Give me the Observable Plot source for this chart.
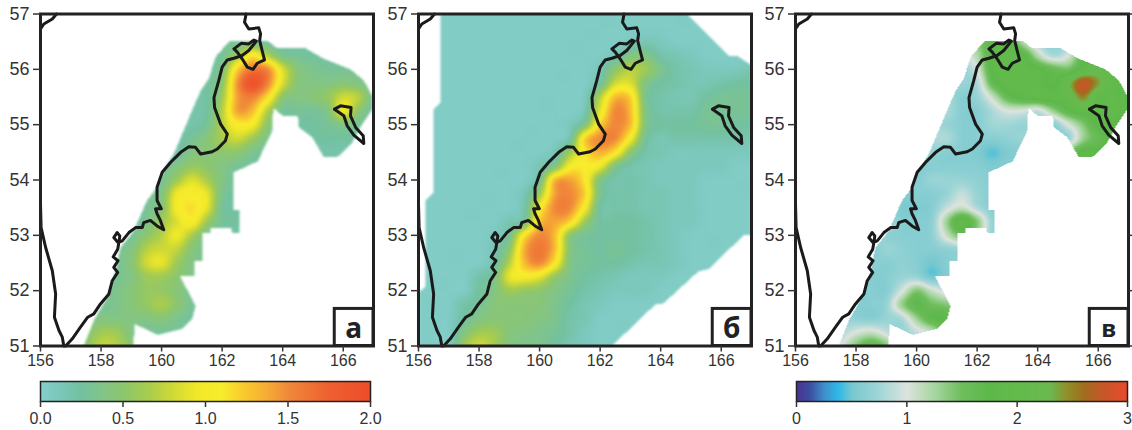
<!DOCTYPE html>
<html><head><meta charset="utf-8">
<script src="https://cdn.jsdelivr.net/npm/d3@7"></script>
<script src="https://cdn.jsdelivr.net/npm/@observablehq/plot@0.6"></script>
<style>
html,body{margin:0;padding:0;background:#fff}
#root{position:relative;width:1132px;height:430px;overflow:hidden}
#root>svg,#root>div{position:absolute}
</style></head><body><div id="root"></div>
<script>
// Grid axes of the read-off values: lon 156..167 step 0.5, lat 57..51 step 0.25
const gridLon0 = 156, gridLat0 = 57, gridLonStep = 0.5, gridLatStep = 0.25;
const lonTicks = [156,158,160,162,164,166];
const latTicks = [51,52,53,54,55,56,57];

// Panel а, values in tenths
const fieldA = [
[2,2,2,2,2,2,2,2,2,2,2,2,2,2,2,2,2,2,2,2,2,2,2],
[2,2,2,2,2,2,2,2,2,2,2,2,2,2,2,2,2,2,2,2,2,2,2],
[2,2,2,2,2,2,2,2,2,2,2,2,2.5,3,3.5,2.5,2,2,2,2,2,2,2],
[2,2,2,2,2,2,2,2,2,2,2,2,3,6,11,7,3.5,3,2.5,2.5,2,2,2],
[2,2,2,2,2,2,2,2,2,2,2,2.5,4,12,16,15,8.5,4.5,3.5,3,3,3,2.5],
[2,2,2,2,2,2,2,2,2,2,2,2.5,5,14.5,19,15.5,8.5,4.5,4,4,4.5,4,3],
[2,2,2,2,2,2,2,2,2,2,2,2.5,6,14,15.5,11.5,5,4,4.5,5.5,8,7,3],
[2,2,2,2,2,2,2,2,2,2,2,2.5,7,14,13,7,3,3,3,4,9.5,5,2.5],
[2,2,2,2,2,2,2,2,2,2,2,3,7,10.5,10,5,3,2.5,2.5,3,4,3,2.5],
[2,2,2,2,2,2,2,2,2,2,3,4.5,6.5,8,6,3.5,2.5,2.5,2.5,2.5,2.5,2.5,2],
[2,2,2,2,2,2,2,2,2,2,4,4.5,5,5,3.5,2.5,2,2,2,2,2,2,2],
[2,2,2,2,2,2,2,2,2.5,4,5.5,5,4,3,2.5,2,2,2,2,2,2,2,2],
[2,2,2,2,2,2,2,2,3,6,8.5,6.5,4,2.5,2,2,2,2,2,2,2,2,2],
[2,2,2,2,2,2,2,3,4,9.5,10.5,9,3.5,2.5,2,2,2,2,2,2,2,2,2],
[2,2,2,2,2,2,2,3,4.5,10,11.5,9,3,2.5,2,2,2,2,2,2,2,2,2],
[2,2,2,2,2,2,2,3.5,6,8.5,10.5,6,3,2.5,2,2,2,2,2,2,2,2,2],
[2,2,2,2,2,2,3,5,7,9.5,6.5,3.5,2.5,2,2,2,2,2,2,2,2,2,2],
[2,2,2,2,2,3,4,7,8,7.5,4.5,3,2,2,2,2,2,2,2,2,2,2,2],
[2,2,2,2,2,3,4.5,8,9,6,4,3,2,2,2,2,2,2,2,2,2,2,2],
[2,2,2,2,2,3,4,6,6,5,3.5,2.5,2,2,2,2,2,2,2,2,2,2,2],
[2,2,2,2,3,3.5,4.5,5.5,5.5,4.5,3,2,2,2,2,2,2,2,2,2,2,2,2],
[2,2,2,2.5,3,3.5,4.5,5.5,6.5,5,3,2,2,2,2,2,2,2,2,2,2,2,2],
[2,2,2,3,4,4,4,4,4.5,3.5,2.5,2,2,2,2,2,2,2,2,2,2,2,2],
[2,2,2,4,6,6,4,3,3,3,2,2,2,2,2,2,2,2,2,2,2,2,2],
[2,2,2,5,7.5,7,5,3,3,3,2,2,2,2,2,2,2,2,2,2,2,2,2]
];

// Panel б, values in tenths
const fieldB = [
[.5,.5,.5,.5,.5,.5,.5,.5,.5,.5,.5,.5,.5,.5,.5,.5,.5,.5,.5,.5,.5,.5,.5],
[.5,.5,.5,.5,.5,.5,.5,.5,.5,.5,.5,.5,.5,.5,.5,.5,.5,.5,.5,.5,.5,.5,.5],
[.5,.5,.5,.5,.5,.5,.5,.5,.5,.5,.5,.5,.5,.5,1,1.5,1,.5,.5,.5,.5,.5,.5],
[.5,.5,.5,.5,.5,.5,.5,.5,.5,.5,.5,.5,.5,1.5,4,4,2,1.5,1,.5,.5,.5,.5],
[.5,.5,.5,.5,.5,.5,.5,.5,.5,.5,.5,.5,1.5,5,7,6,3.5,2,1.5,1,1,1,1.5],
[.5,.5,.5,.5,.5,.5,.5,.5,.5,.5,.5,.5,2.5,8,8.5,4,2.5,2,1.5,1.5,2,2.5,2.5],
[.5,.5,.5,.5,.5,.5,.5,.5,.5,.5,.5,1,7,13,12,3.5,2,1.5,1.5,2.5,3,3,3],
[.5,.5,.5,.5,.5,.5,.5,.5,.5,.5,.5,1.5,9,15,13,4,2,2,2,3,3,3,3],
[.5,.5,.5,.5,.5,.5,.5,.5,.5,.5,1,4,12,15,13,4,2.5,2.5,2.5,3,3,2.5,2.5],
[.5,.5,.5,.5,.5,.5,.5,.5,.5,.5,2,12,15,15,10,3,1.5,2,2,2,2,2,1.5],
[.5,.5,.5,.5,.5,.5,.5,.5,.5,1.5,6,11,13.5,11,5,2,1.5,1,1,1,1,1,1],
[.5,.5,.5,.5,.5,.5,.5,.5,1.5,4,10,11,9.5,4,2,1.5,1,1,1,1,1,.5,.5],
[.5,.5,.5,.5,.5,.5,.5,.5,3,13,14,11,4,2,2,1.5,1,1,1,.5,.5,.5,.5],
[.5,.5,.5,.5,.5,.5,.5,1.5,6,14,15,12,3.5,2,2,1.5,1.5,1,1,.5,.5,.5,.5],
[.5,.5,.5,.5,.5,.5,.5,2,10,15,15,10,2.5,2,2,1.5,1.5,1,1,.5,.5,.5,.5],
[.5,.5,.5,.5,.5,.5,1.5,3,12.5,14,12,6,2.5,2.5,2.5,2,1.5,1,1,.5,.5,.5,.5],
[.5,.5,.5,.5,.5,1,3,11,15,13,5,3,2.5,2.5,2.5,2,1.5,1,.5,.5,.5,.5,.5],
[.5,.5,.5,.5,.5,1.5,5,13.5,16,13,4.5,3,2.5,3,2.5,2,1.5,1,.5,.5,.5,.5,.5],
[.5,.5,.5,.5,.5,2,7,13,15,11,4,3,2.5,2.5,2,1.5,1.5,1,.5,.5,.5,.5,.5],
[.5,.5,.5,.5,2,3.5,9,10,9,5.5,3.5,2.5,2,1.5,1,1,1,.5,.5,.5,.5,.5,.5],
[.5,.5,.5,.5,2.5,4,6,5.5,5,4,3,2,1.5,1,1,1,.5,.5,.5,.5,.5,.5,.5],
[.5,.5,.5,2,3,4.5,4.5,4.5,4.5,3.5,2.5,1.5,1,.5,.5,.5,.5,.5,.5,.5,.5,.5,.5],
[.5,.5,.5,2.5,4,4.5,4.5,4.5,4,3.5,2,1.5,.5,.5,.5,.5,.5,.5,.5,.5,.5,.5,.5],
[.5,.5,.5,4,6,6,4.5,4,3.5,3,2,1,.5,.5,.5,.5,.5,.5,.5,.5,.5,.5,.5],
[.5,.5,.5,6,8,6.5,4,3.5,3.5,2.5,1.5,1,.5,.5,.5,.5,.5,.5,.5,.5,.5,.5,.5]
];

// Panel в, values in tenths
const fieldC = [
[8,8,8,8,8,8,8,8,8,8,8,8,8,8,8,8,8,8,8,8,8,8,8],
[8,8,8,8,8,8,8,8,8,8,8,8,10,12,13,10,8,8,8,8,8,8,8],
[8,8,8,8,8,8,8,8,8,8,8,9,13,17,18,12,8,7,8,10,12,14,14],
[8,8,8,8,8,8,8,8,8,8,8,9,12,18,19,18,12,8,10,16,18,18,18],
[8,8,8,8,8,8,8,8,8,8,8,7,10,18,19,19,18,16,15,19,21,19,18],
[8,8,8,8,8,8,8,8,8,8,8,7,8,16,19,19,19,17,22,28,24,19,18],
[8,8,8,8,8,8,8,8,8,8,8,6,7,11,16,18,19,19,20,25,19,19,18],
[8,8,8,8,8,8,8,8,8,8,8,6,6,8,10,10,9,13,17,19,19,19,18],
[8,8,8,8,8,8,8,8,8,8,7,6,6,7.5,7.5,7,7,6,10,14,18,18,16],
[8,8,8,8,8,8,8,8,8,8,8,6,6,6,6.5,7,7,7,7,13,16,18,16],
[8,8,8,8,8,8,8,8,8,7,6,6,5.5,4.5,5.5,6,7,7,14,18,18,18,16],
[8,8,8,8,8,8,8,8,6,6,6,6,6,5.5,6,7,8,8,14,18,18,18,16],
[8,8,8,8,8,8,8,8,6,7,7,7,6.5,6,6,7,8,8,8,8,8,8,8],
[8,8,8,8,8,8,8,6,6,6,7,9,7,6,6,7,8,8,8,8,8,8,8],
[8,8,8,8,8,8,8,5.5,5.5,6,9,11,8,6,6,7,8,8,8,8,8,8,8],
[8,8,8,8,8,8,8,6,6,6.5,13,19,14,7,7,8,8,8,8,8,8,8,8],
[8,8,8,8,8,8,6.5,6,6,6.5,11,15,12,7,7,8,8,8,8,8,8,8,8],
[8,8,8,8,8,6,7,6.5,6,6,6.5,7,7,7,8,8,8,8,8,8,8,8,8],
[8,8,8,8,8,6.5,6,6.5,6,5,6,7,7,8,8,8,8,8,8,8,8,8,8],
[8,8,8,8,8,6,6,7,7,5,6,7,8,8,8,8,8,8,8,8,8,8,8],
[8,8,8,8,6,6,6,9.5,14,11,9,9,8,8,8,8,8,8,8,8,8,8,8],
[8,8,8,7,6,6,7,13,17,15,14,12,8,8,8,8,8,8,8,8,8,8,8],
[8,8,8,7,6.5,6,7,8,13,17,17,14,8,8,8,8,8,8,8,8,8,8,8],
[8,8,8,8,10,11,9,7,9,11,15,12,8,8,8,8,8,8,8,8,8,8,8],
[8,8,8,10,14,17,14,9,8,8,8,8,8,8,8,8,8,8,8,8,8,8,8]
];

// Outlines of the data coverage [lon, lat]
const coverShelf = [[157.43,51],[157.76,51.46],[158.2,51.88],[158.48,52.36],[158.64,52.78],[159.08,53.08],[159.52,53.63],[159.85,53.87],[160.07,54.17],[160.4,54.47],[160.68,54.83],[161,55.25],[161.29,55.61],[161.56,55.83],[161.78,56.22],[162.17,56.47],[162.28,56.52],[163.49,56.52],[163.82,56.38],[164.76,56.38],[165.36,56.19],[166.24,56],[166.68,55.8],[166.96,55.52],[166.96,55.28],[166.63,55.01],[166.3,54.68],[165.8,54.41],[165.36,54.41],[164.98,54.77],[164.54,54.95],[164.5,55.16],[164,55.16],[163.69,55.3],[163.65,54.88],[163.18,54.34],[162.39,54.14],[162.39,53.46],[162.59,53.46],[162.59,53.04],[162.33,53.04],[162.3,53.14],[161.62,53.14],[161.62,53.05],[161.34,53.05],[161.34,52.54],[161.1,52.54],[161.1,52.27],[160.6,52.27],[161.12,51.73],[161.01,51.49],[160.68,51.31],[159.88,51.2],[159.1,51.4],[159.08,51]];
const coverWide = [[156.74,57],[156.74,55.4],[156.5,55.28],[156.5,53.78],[156.22,53.63],[156.22,52.06],[156,51.97],[156,51],[162.39,51],[163.82,51.75],[164.09,51.77],[165.25,52.35],[165.58,52.39],[166.74,53],[167,53],[167,56.07],[166.52,56.25],[166.24,56.25],[164.87,57]];

// Coastlines [lon, lat]
const coastEast = [[162.79,57],[162.74,56.85],[162.88,56.73],[163.21,56.75],[163.27,56.64],[163.24,56.52],[163.32,56.34],[163.4,56.17],[163.16,56.11],[163.02,56],[162.83,56.04],[162.66,56.19],[162.5,56.31],[162.39,56.37],[162.63,56.47],[162.88,56.46],[163.05,56.53],[163.13,56.51],[162.88,56.34],[162.66,56.25],[162.39,56.2],[162.17,56.17],[162,56.04],[161.89,55.8],[161.73,55.49],[161.75,55.31],[161.95,55.01],[162.17,54.83],[162.11,54.71],[161.84,54.56],[161.67,54.51],[161.29,54.47],[161.12,54.59],[160.9,54.6],[160.63,54.5],[160.3,54.32],[160.02,54.14],[159.85,53.87],[159.85,53.63],[159.99,53.48],[159.8,53.48],[159.85,53.39],[159.96,53.27],[160.07,53.1],[159.85,53.17],[159.63,53.27],[159.41,53.23],[159.36,53.14],[159.14,53.14],[158.92,53.05],[158.7,52.9],[158.56,52.87],[158.42,52.96],[158.53,53.05],[158.62,52.99],[158.59,52.87],[158.55,52.75],[158.4,52.61],[158.56,52.54],[158.42,52.42],[158.55,52.33],[158.37,52.18],[158.26,51.94],[157.98,51.76],[157.76,51.58],[157.56,51.52],[157.32,51.34],[157.05,51.13],[156.83,51]];
const coastWest = [[156,53.57],[156.02,53.14],[156.17,52.78],[156.39,52.36],[156.5,51.94],[156.46,51.52],[156.61,51.28],[156.72,51.16],[156.77,51]];
const coastNorth = [[156,56.73],[156.11,56.82],[156.39,56.91],[156.53,57]];
const bering = [[165.71,55.28],[165.91,55.34],[166.26,55.31],[166.24,55.16],[166.41,54.95],[166.66,54.8],[166.68,54.66],[166.35,54.81],[166.13,54.98],[166.02,55.16],[165.71,55.28]];

// Colour scales
const stopsAB = [0,.1,.25,.4,.5,.65,.8,.95,1.1,1.25,1.35,1.5,1.75,2];
const colorsAB = ["#85cfcc","#7cc8bd","#73c1a0","#84c583","#8cc66e","#a8cc4f","#cfd936","#f2e929","#f8ec2d","#f9c62e","#f6b233","#f0893a","#ee6030","#ee4c2a"];
const stopsC = [0,.12,.25,.38,.5,.75,1,1.25,1.5,1.75,2,2.3,2.45,2.6,2.75,3];
const colorsC = ["#4b3292","#3d4ea0","#3f8fcb","#2fb9e8","#77c8cf","#a0d6d6","#dde3de","#a6d6a0","#6ebd5c","#5db84a","#64bb4c","#6ab850","#8f8f2a","#a06e1e","#c05a28","#ea4a2a"];

const ink = "#222";
const font = "'Liberation Sans',Arial,sans-serif";
const root = document.getElementById("root");

function sampler(grid, cover) {
  const nx = grid[0].length, ny = grid.length;
  const at = (j, i) => grid[Math.max(0, Math.min(ny - 1, j))][Math.max(0, Math.min(nx - 1, i))];
  const cr = (a, b, c, d, t) => b + 0.5 * t * (c - a + t * (2 * a - 5 * b + 4 * c - d + t * (3 * (b - c) + d - a)));
  return (lon, lat) => {
    if (!d3.polygonContains(cover, [lon, lat])) return NaN;
    const fx = (lon - gridLon0) / gridLonStep, fy = (gridLat0 - lat) / gridLatStep;
    const i = Math.floor(fx), j = Math.floor(fy), tx = fx - i, ty = fy - j, row = [];
    for (let k = -1; k <= 2; ++k) row.push(cr(at(j + k, i - 1), at(j + k, i), at(j + k, i + 1), at(j + k, i + 2), tx));
    return Math.max(0, cr(row[0], row[1], row[2], row[3], ty)) / 10;
  };
}

function soften(px) {
  return (index, scales, values, dimensions, context, next) => {
    const g = next(index, scales, values, dimensions, context);
    g.style.filter = `blur(${px}px)`;
    return g;
  };
}

function panel(left, width, marginRight, grid, cover, stops, colors, letter, letterSize, blurPx, rightTicks) {
  const p = Plot.plot({
    width, height: 380, marginLeft: 40, marginRight, marginTop: 13.5, marginBottom: 34.5,
    style: {fontFamily: font, color: "#333", background: "transparent", overflow: "visible"},
    x: {domain: [156, 167]}, y: {domain: [51, 57]},
    color: {type: "linear", domain: stops, range: colors, interpolate: "rgb", clamp: true},
    marks: [
      Plot.raster({x1: 156, x2: 167, y1: 51, y2: 57, fill: sampler(grid, cover), pixelSize: 1, render: soften(blurPx)}),
      Plot.line(coastEast, {stroke: "#1a1a1a", strokeWidth: 3}),
      Plot.line(coastWest, {stroke: "#1a1a1a", strokeWidth: 3}),
      Plot.line(coastNorth, {stroke: "#1a1a1a", strokeWidth: 3}),
      Plot.line(bering, {stroke: "#1a1a1a", strokeWidth: 3}),
      Plot.frame({stroke: ink, strokeWidth: 3}),
      Plot.rect([0], {x1: () => 165.72, x2: () => 167, y1: () => 51, y2: () => 51.67, fill: "white", stroke: ink, strokeWidth: 3}),
      Plot.text([letter], {x: () => 166.35, y: () => 51.31, text: d => d, fontSize: letterSize, fontWeight: 700, fontFamily: "'Open Sans',sans-serif", fill: "#222"}),
      Plot.axisX({ticks: lonTicks, tickFormat: d => String(d), tickSize: 6, tickPadding: 3, strokeWidth: 1.5, fontSize: 16, fontFamily: font, label: null}),
      Plot.axisY({ticks: latTicks, tickFormat: d => String(d), tickSize: 7, tickPadding: 4, strokeWidth: 1.5, fontSize: 18, fontFamily: font, label: null}),
      rightTicks ? Plot.axisY({anchor: "right", ticks: latTicks, tickFormat: () => "", tickSize: 3, strokeWidth: 1.5, label: null}) : null
    ]
  });
  p.style.left = left + "px"; p.style.top = "0px";
  root.appendChild(p);
}

function colorbar(left, width, marginLeft, marginRight, stops, colors, ticks, fmt) {
  const max = stops[stops.length - 1];
  const p = Plot.plot({
    width, height: 52, marginLeft, marginRight, marginTop: 3, marginBottom: 29,
    style: {fontFamily: font, color: "#333", background: "transparent"},
    x: {domain: [0, max]}, y: {domain: [0, 1], axis: null},
    color: {type: "linear", domain: stops, range: colors, interpolate: "rgb", clamp: true},
    marks: [
      Plot.raster({x1: 0, x2: max, y1: 0, y2: 1, fill: (x) => x, pixelSize: 1}),
      Plot.frame({stroke: ink, strokeWidth: 1.5}),
      Plot.axisX({ticks, tickFormat: fmt, tickSize: 6, tickPadding: 5, strokeWidth: 1.5, fontSize: 16, fontFamily: font, label: null})
    ]
  });
  p.style.left = left + "px"; p.style.top = "378px";
  root.appendChild(p);
}

panel(0, 379, 6, fieldA, coverShelf, stopsAB, colorsAB, "а", 28, 1.3, false);
panel(378.3, 379, 6, fieldB, coverWide, stopsAB, colorsAB, "б", 28, 1.3, false);
panel(755, 377, 4, fieldC, coverShelf, stopsC, colorsC, "в", 24, 0.6, true);
colorbar(0, 392, 40, 22, stopsAB, colorsAB, [0, .5, 1, 1.5, 2], d3.format(".1f"));
colorbar(760, 372, 36, 5, stopsC, colorsC, [0, 1, 2, 3], d => String(d));
</script></body></html>
